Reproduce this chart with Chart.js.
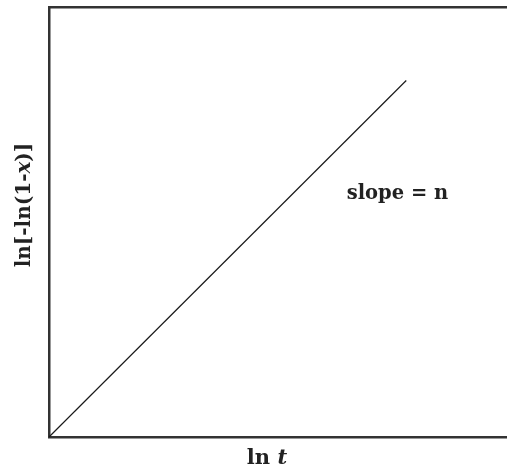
<!DOCTYPE html>
<html>
<head>
<meta charset="utf-8">
<script src="https://cdn.jsdelivr.net/npm/chart.js@4.4.1/dist/chart.umd.min.js"></script>
<style>
  html, body { margin: 0; padding: 0; background: #fff; }
  #wrap { width: 507px; height: 474px; }
</style>
</head>
<body>
<div id="wrap"><canvas id="c" width="507" height="474"></canvas></div>
<script>
// Avrami plot: ln[-ln(1-x)] against ln t, a straight line whose slope is n
const lnT = [0, 7.8];
const lnLnX = [0, 8.3];
const xRange = [0, 10];
const yRange = [0, 10];

// Axis titles as runs of [text, italic]
const xTitleRuns = [['ln ', false], ['t', true]];
const yTitleRuns = [['ln[-ln(1-', false], ['x', true], [')]', false]];
const slopeNote = 'slope = n';

const FONT = '"DejaVu Serif", "Liberation Serif", serif';
const INK = '#222';

function runsWidth(ctx, runs, size) {
  let w = 0;
  for (const [t, it] of runs) {
    ctx.font = (it ? 'italic ' : '') + 'bold ' + size + 'px ' + FONT;
    w += ctx.measureText(t).width;
  }
  return w;
}
function drawRuns(ctx, runs, size, x, y) {
  let cx = x;
  for (const [t, it] of runs) {
    ctx.font = (it ? 'italic ' : '') + 'bold ' + size + 'px ' + FONT;
    ctx.fillText(t, cx, y);
    cx += ctx.measureText(t).width;
  }
}

const titles = {
  id: 'titles',
  afterDraw(chart) {
    const { ctx, chartArea: a, scales } = chart;
    ctx.save();
    ctx.fillStyle = INK;
    ctx.textBaseline = 'middle';
    ctx.textAlign = 'left';

    // x title under the frame
    const xs = 21;
    const xw = runsWidth(ctx, xTitleRuns, xs);
    drawRuns(ctx, xTitleRuns, xs, 267 - xw / 2, a.bottom + 22);

    // y title, rotated, left of the frame
    const ys = 20;
    const yw = runsWidth(ctx, yTitleRuns, ys);
    ctx.translate(a.left - 24, 205);
    ctx.rotate(-Math.PI / 2);
    drawRuns(ctx, yTitleRuns, ys, -yw / 2, 0);
    ctx.restore();

    // note beside the line
    ctx.save();
    ctx.fillStyle = INK;
    ctx.textBaseline = 'middle';
    ctx.textAlign = 'left';
    ctx.font = 'bold 19.5px ' + FONT;
    ctx.fillText(slopeNote, scales.x.getPixelForValue(6.5), scales.y.getPixelForValue(5.65));
    ctx.restore();
  }
};

// the frame hugs the plot: axes take no room of their own
const noHeight = (s) => { s.height = 0; };
const noWidth = (s) => { s.width = 0; };
const edge = { display: true, color: '#333', width: 2.5 };

new Chart(document.getElementById('c'), {
  type: 'scatter',
  data: {
    datasets: [{
      data: lnT.map((v, i) => ({ x: v, y: lnLnX[i] })),
      showLine: true,
      borderColor: '#1a1a1a',
      borderWidth: 1.2,
      pointRadius: 0,
      clip: false
    }]
  },
  options: {
    responsive: false,
    animation: false,
    layout: { padding: { left: 49, top: 7.5, right: 0, bottom: 37 } },
    plugins: { legend: { display: false }, tooltip: { enabled: false } },
    scales: {
      x: {
        min: xRange[0], max: xRange[1],
        ticks: { display: false },
        grid: { display: false },
        border: edge,
        afterFit: noHeight
      },
      xTop: {
        type: 'linear', position: 'top',
        min: xRange[0], max: xRange[1],
        ticks: { display: false },
        grid: { display: false },
        border: edge,
        afterFit: noHeight
      },
      y: {
        min: yRange[0], max: yRange[1],
        ticks: { display: false },
        grid: { display: false },
        border: edge,
        afterFit: noWidth
      }
    }
  },
  plugins: [titles]
});
</script>
</body>
</html>
